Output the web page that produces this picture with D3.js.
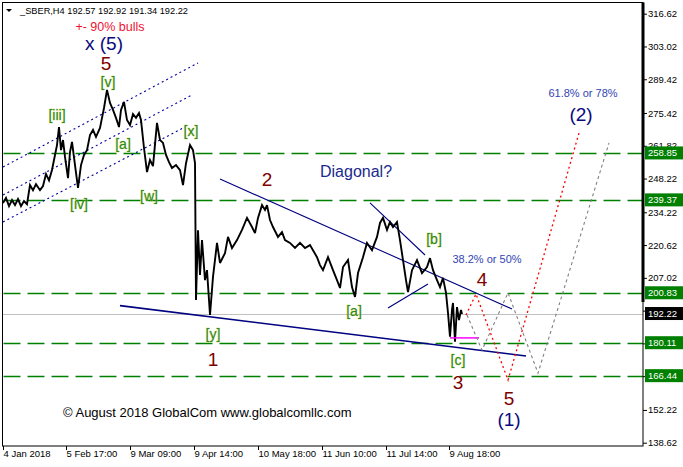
<!DOCTYPE html>
<html><head><meta charset="utf-8">
<script src="https://cdn.jsdelivr.net/npm/d3@7"></script>
<style>
html,body{margin:0;padding:0;background:#fff;}
svg{display:block;font-family:"Liberation Sans",Arial,sans-serif;}
</style></head>
<body>
<svg id="c" width="683" height="467"></svg>
<script>
// ---- DATA ----
const symbolTitle = "_SBER,H4  192.57 192.92 191.34 192.22";
// bar index (H4 bars from 4 Jan 2018) and price
const barIdx = [0,3,6,9,12,15,18,21,24,27,30,33,37,40,43,46,49,52,54,56,58,60,62,65,67,69,72,75,78,81,84,87,90,93,97,99,101,104,107,110,113,116,118,121,124,127,130,133,136,138,141,144,147,150,154,157,160,163,166,169,173,177,180,183,187,190,192,193,195,197,199,202,204,207,210,214,217,222,225,229,234,239,244,249,252,255,259,262,264,267,270,275,279,282,287,292,297,302,307,310,314,317,320,325,330,334,337,340,345,349,352,355,360,364,369,374,377,380,384,387,390,394,397,400,403,405,409,414,419,424,427,430,434,437,440,443,445,447,449,450,452,454,456,458,459];
const prices = [238.1,240.2,236.8,239.3,237.2,239.7,236.8,238.9,237.6,245.5,243.4,245.9,243.4,245.1,250.1,247.5,251.8,258.0,262.1,269.6,260.0,264.2,257.2,248.4,259.2,263.4,253.8,244.3,253.8,258.0,260.0,266.3,268.4,265.5,269.2,273.4,277.5,285.0,279.6,276.7,273.4,269.6,276.7,280.0,272.5,270.4,275.0,273.4,275.4,272.5,260.9,250.9,255.9,253.4,271.3,264.2,263.0,258.0,255.0,252.6,253.8,251.7,245.5,254.6,262.1,260.0,254.6,197.8,226.8,208.2,222.7,206.1,210.2,191.6,207.4,221.5,213.2,217.3,224.0,219.4,222.7,226.9,231.9,228.1,225.6,231.9,237.2,235.2,237.2,231.0,228.1,224.0,226.0,222.7,221.5,219.4,221.5,219.4,220.6,218.5,215.6,212.3,210.2,215.6,210.2,206.1,202.8,211.5,214.4,203.2,199.1,209.0,215.6,221.5,218.5,224.0,229.8,231.9,226.9,230.2,228.1,230.2,222.7,214.4,206.1,201.1,210.2,214.4,209.0,211.5,215.2,210.2,206.1,203.2,207.0,200.8,192.5,182.6,193.7,196.6,180.5,194.9,189.5,193.7,192.0];

const priceTicks = [316.62,303.02,289.42,275.42,261.82,248.22,234.22,220.62,207.02,193.42,179.82,166.22,152.22,138.62];
const timeTickBars = [0,63,127,191,255,319,383,446];
const timeTickLabels = ["4 Jan 2018","5 Feb 17:00","9 Mar 09:00","9 Apr 14:00","10 May 18:00","11 Jun 10:00","11 Jul 14:00","9 Aug 18:00"];

const levels = [258.85,239.37,200.83,180.11,166.44];
const lastPrice = 192.22;

// trend lines: [[bar, price],[bar, price]]
const channelLines = [
  [[0,253.0],[195,296.2]],
  [[0,241.4],[189,282.9]],
  [[0,230.2],[182,269.6]]
];
const wedgeLines = [
  [[217,248.0],[509,194.1]],
  [[117,195.5],[523,174.6]],
  [[367,238.1],[422,216.5]],
  [[385,194.5],[425,204.5]]
];
const magentaLine = [[447,182.1],[476,182.1]];
const redPath = [[463,191.6],[473,200.3],[505,164.6],[576,267.1]];
const grayPath = [[464,191.6],[479,177.0],[505,200.8],[535,167.5],[606,263.0]];

// annotations: [bar, price, text, kind]
const labels = [
  [107,309.5,"+- 90% bulls","bulls"],
  [101,301.7,"x (5)","navyBig"],
  [103,293.2,"5","num"],
  [105,286.2,"[v]","sub"],
  [54,272.5,"[iii]","sub"],
  [120,260.5,"[a]","sub"],
  [76,235.6,"[iv]","sub"],
  [146,238.9,"[w]","sub"],
  [188,265.9,"[x]","sub"],
  [210,181.6,"[y]","sub"],
  [210,170.4,"1","num"],
  [264,245.1,"2","num"],
  [353,248.7,"Diagonal?","diag"],
  [351,191.2,"[a]","sub"],
  [431,221.0,"[b]","sub"],
  [484,213.2,"38.2% or 50%","fib"],
  [479,203.6,"4","num"],
  [455,170.8,"[c]","sub"],
  [455,160.9,"3","num"],
  [506,154.3,"5","num"],
  [506,145.5,"(1)","navyBig"],
  [580,282.1,"61.8% or 78%","fib"],
  [578,272.1,"(2)","navyBig"]
];
const copyright = [60,149.2,"© August 2018 GlobalCom www.globalcomllc.com"];

// ---- DRAW ----
(function(){
const svg = d3.select("#c");
const pL = 2.5, pR = 643, pT = 2.5, pB = 446;
const x = d3.scaleLinear().domain([0,640]).range([3,643]);
const y = d3.scaleLinear().domain([138.62,316.62]).range([442.7,13.7]);

const defs = svg.append("defs");
defs.append("clipPath").attr("id","plot").append("rect")
  .attr("x",pL).attr("y",pT).attr("width",pR-pL).attr("height",pB-pT);

const plot = svg.append("g").attr("clip-path","url(#plot)");

// current price line
plot.append("line").attr("x1",x(0)).attr("x2",pR).attr("y1",Math.round(y(lastPrice))+0.5).attr("y2",Math.round(y(lastPrice))+0.5)
  .attr("stroke","#c0c0c0").attr("stroke-width",1);

// horizontal levels
plot.selectAll("line.lvl").data(levels).join("line").attr("class","lvl")
  .attr("x1",x(0)+0.5).attr("x2",pR).attr("y1",d=>Math.round(y(d))+0.5).attr("y2",d=>Math.round(y(d))+0.5)
  .attr("stroke","#008000").attr("stroke-width",1.6).attr("stroke-dasharray","17,7");

const line = d3.line().x(d=>x(d[0])).y(d=>y(d[1]));

// channel dotted lines
plot.selectAll("path.ch").data(channelLines).join("path").attr("class","ch")
  .attr("d",line).attr("fill","none").attr("stroke","#0000a0").attr("stroke-width",1.1).attr("stroke-dasharray","2,3");

// wedge lines
plot.selectAll("path.wd").data(wedgeLines).join("path").attr("class","wd")
  .attr("d",line).attr("fill","none").attr("stroke","#000080").attr("stroke-width",(d,i)=>i===1?1.6:1.1);

// price series
const series = barIdx.map((b,i)=>[b,prices[i]]);
plot.append("path").attr("d",line(series)).attr("fill","none").attr("stroke","#000").attr("stroke-width",1.9)
  .attr("stroke-linejoin","miter").attr("stroke-miterlimit",3);

// magenta
plot.append("path").attr("d",line(magentaLine)).attr("stroke","#ff00ff").attr("stroke-width",1.5).attr("fill","none");

// projections
plot.append("path").attr("d",line(grayPath)).attr("fill","none").attr("stroke","#808080").attr("stroke-width",1.1).attr("stroke-dasharray","3,3");
plot.append("path").attr("d",line(redPath)).attr("fill","none").attr("stroke","#ff0000").attr("stroke-width",1.3).attr("stroke-dasharray","2,3");

// labels
const styles = {
  bulls:{size:12.5,fill:"#ee1133"},
  navyBig:{size:19,fill:"#0a0a80"},
  num:{size:19,fill:"#800000"},
  sub:{size:14,fill:"#2a8a2a",stroke:"#d0d040"},
  diag:{size:16,fill:"#1a2a8c"},
  fib:{size:11,fill:"#3344b4"}
};
svg.append("g").selectAll("text").data(labels).join("text")
  .attr("x",d=>x(d[0])).attr("y",d=>y(d[1]))
  .attr("text-anchor","middle")
  .attr("font-size",d=>styles[d[3]].size)
  .attr("fill",d=>styles[d[3]].fill)
  .attr("stroke",d=>styles[d[3]].stroke||null)
  .attr("stroke-width",d=>styles[d[3]].stroke?0.55:null)
  .attr("paint-order","stroke")
  .text(d=>d[2]);

svg.append("text").attr("x",x(copyright[0])).attr("y",y(copyright[1]))
  .attr("font-size",13).attr("fill","#000").text(copyright[2]);

// frame
svg.append("rect").attr("x",pL).attr("y",pT).attr("width",pR-pL).attr("height",pB-pT)
  .attr("fill","none").attr("stroke","#000").attr("stroke-width",1);
svg.append("rect").attr("x",pR-1.5).attr("y",pT).attr("width",3).attr("height",302-pT).attr("fill","#000");

// right axis
const yAxis = d3.axisRight(y).tickValues(priceTicks).tickSize(4).tickPadding(1).tickFormat(d3.format(".2f"));
const ya = svg.append("g").attr("transform",`translate(${pR},0)`).call(yAxis);
ya.select(".domain").remove();
ya.selectAll("text").attr("font-family","Tahoma,'Liberation Sans',Arial,sans-serif").attr("font-size",9.5).attr("fill","#000");
ya.selectAll("line").attr("stroke","#000");

// level boxes
const boxes = levels.map(v=>({v,bg:"#008000"})).concat([{v:lastPrice,bg:"#000"}]);
const bg = svg.append("g").selectAll("g").data(boxes).join("g").attr("transform",d=>`translate(${pR+2},${y(d.v)})`);
bg.append("rect").attr("x",0).attr("y",-6.5).attr("width",38).attr("height",13).attr("fill",d=>d.bg);
bg.append("text").attr("x",3).attr("y",0).attr("dy","0.34em").attr("fill","#fff")
  .attr("font-family","Tahoma,'Liberation Sans',Arial,sans-serif").attr("font-size",9.5).text(d=>d.v.toFixed(2));

// bottom axis
const xAxis = d3.axisBottom(x).tickValues(timeTickBars).tickSize(4).tickFormat((d,i)=>timeTickLabels[i]);
const xa = svg.append("g").attr("transform",`translate(0,${pB})`).call(xAxis);
xa.select(".domain").remove();
xa.selectAll("text").attr("text-anchor","start").attr("x",0).attr("dy","0.9em").attr("y",2)
  .attr("font-family","Tahoma,'Liberation Sans',Arial,sans-serif").attr("font-size",9.5).attr("fill","#000");

// header
svg.append("path").attr("d","M6,9 L12,9 L9,12 Z").attr("fill","#000");
svg.append("text").attr("x",20).attr("y",14).attr("font-family","Tahoma,'Liberation Sans',Arial,sans-serif")
  .attr("font-size",9.5).attr("fill","#000").attr("textLength",168).attr("lengthAdjust","spacingAndGlyphs").text(symbolTitle);
})();
</script>
</body></html>
